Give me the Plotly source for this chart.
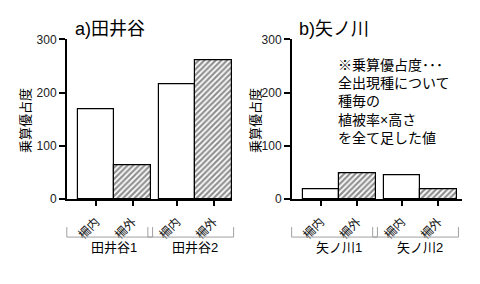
import plotly.graph_objects as go

# ---- data ----
bar_labels = ["柵内", "柵外", "柵内", "柵外"]
a_groups = ["田井谷1", "田井谷2"]
a_values = [168, 64, 216, 260]
b_groups = ["矢ノ川1", "矢ノ川2"]
b_values = [18, 49, 45, 18]
y_ticks = [0, 100, 200, 300]
titles = ["a)田井谷", "b)矢ノ川"]
y_title = "乗算優占度"
note = "※乗算優占度･･･<br>全出現種について<br>種毎の<br>植被率×高さ<br>を全て足した値"

W, H = 480, 284
FONT = "Liberation Sans, Arial, Noto Sans CJK JP, sans-serif"
GAP = 0.22
pos = [i + GAP * (i // 2) for i in range(4)]
patterns = ["" if lab == "柵内" else "/" for lab in bar_labels]

fig = go.Figure()
for k, vals in enumerate([a_values, b_values]):
    fig.add_trace(go.Bar(
        x=pos, y=vals, width=1.0,
        xaxis="x" if k == 0 else "x2", yaxis="y" if k == 0 else "y2",
        marker=dict(color="white", line=dict(color="black", width=1.2),
                    pattern=dict(shape=patterns, fgcolor="#222", bgcolor="white",
                                 size=4, solidity=0.55)),
        showlegend=False, hoverinfo="skip"))

ydom = [(H - 202) / H, (H - 34) / H]
xdoms = [[67 / W, 232 / W], [292 / W, 462 / W]]
xranges = [[-0.795, -0.795 + 165 / 36.5], [-0.79, -0.79 + 170 / 36.5]]

def xax(k):
    return dict(domain=xdoms[k], range=xranges[k], tickvals=pos, ticktext=bar_labels,
                tickangle=-45, ticks="outside", ticklen=5, tickwidth=1.5, tickcolor="black",
                ticklabelstandoff=4,
                showline=True, linewidth=2, linecolor="black", showgrid=False, zeroline=False,
                tickfont=dict(size=12, color="#111", family=FONT), fixedrange=True,
                anchor="y" if k == 0 else "y2")

def yax(k):
    return dict(domain=ydom, range=[0, 300], tickvals=y_ticks, ticks="outside", ticklen=6,
                tickwidth=1.5, tickcolor="black", showline=True, linewidth=2, linecolor="black",
                showgrid=False, zeroline=False, tickfont=dict(size=12, color="#222", family=FONT),
                fixedrange=True, anchor="x" if k == 0 else "x2")

shapes = []
annotations = []
groups_all = [a_groups, b_groups]
title_x = [73, 297]
ytitle_x = [25.5, 255.5]
for k in range(2):
    r0, r1 = xranges[k]
    frac = lambda v: (v - r0) / (r1 - r0)
    xref = "x domain" if k == 0 else "x2 domain"
    for g, name in enumerate(groups_all[k]):
        left = pos[2 * g] - 0.8
        right = pos[2 * g + 1] + 0.55
        ytop, ybot = 1 - 231.5 / H, 1 - 242 / H
        shapes.append(dict(type="path", xref=xref, yref="paper",
                           path=f"M {frac(left)} {ytop} L {frac(left)} {ybot} L {frac(right)} {ybot} L {frac(right)} {ytop}",
                           line=dict(color="#a0a0a0", width=1)))
        cx = (pos[2 * g] + pos[2 * g + 1]) / 2
        annotations.append(dict(xref=xref, yref="paper", x=frac(cx), y=1 - 253 / H,
                                text=name, showarrow=False, xanchor="center", yanchor="middle",
                                font=dict(size=13, color="black", family=FONT)))
    annotations.append(dict(xref="paper", yref="paper", x=title_x[k] / W, y=1 - 23 / H,
                            text=titles[k], showarrow=False, xanchor="left", yanchor="middle",
                            font=dict(size=18, color="black", family=FONT)))
    annotations.append(dict(xref="paper", yref="paper", x=ytitle_x[k] / W, y=1 - 119.5 / H,
                            text=y_title, showarrow=False, textangle=-90,
                            xanchor="center", yanchor="middle",
                            font=dict(size=13, color="black", family=FONT)))

annotations.append(dict(xref="paper", yref="paper", x=336 / W, y=1 - 99.5 / H, text=note,
                        showarrow=False, xanchor="left", yanchor="middle", align="left",
                        font=dict(size=14, color="black", family=FONT)))

fig.update_layout(
    width=W, height=H, margin=dict(l=0, r=0, t=0, b=0),
    paper_bgcolor="white", plot_bgcolor="white", showlegend=False,
    xaxis=xax(0), yaxis=yax(0), xaxis2=xax(1), yaxis2=yax(1),
    shapes=shapes, annotations=annotations, bargap=0,
)
fig.write_html("out.html")
